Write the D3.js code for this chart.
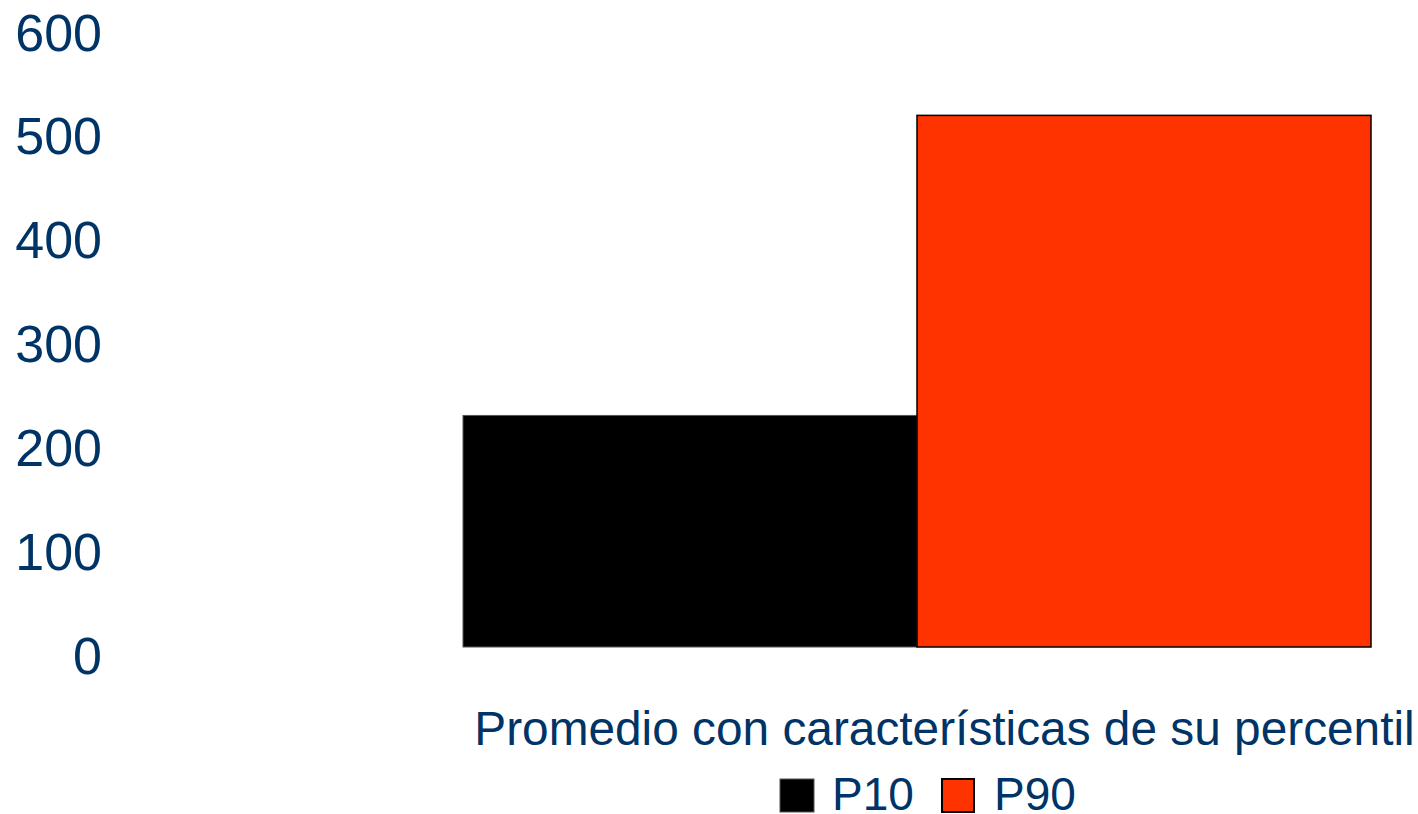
<!DOCTYPE html>
<html>
<head>
<meta charset="utf-8">
<script src="https://cdn.jsdelivr.net/npm/d3@7"></script>
<style>
  html, body { margin: 0; padding: 0; background: #ffffff; }
  svg { display: block; }
  text { font-family: "Liberation Sans", Arial, sans-serif; fill: #003366; }
</style>
</head>
<body>
<svg id="chart" width="1418" height="814"></svg>
<script>
const categories = ["Promedio con características de su percentil"];
const seriesNames = ["P10", "P90"];
const p10Values = [223];
const p90Values = [512];
const yTicks = [0, 100, 200, 300, 400, 500, 600];
const seriesColors = ["#000000", "#ff3300"];
const seriesStrokes = ["#555555", "#000000"];

const svg = d3.select("#chart");
const y = d3.scaleLinear().domain([0, 600]).range([647, 24]);
const x0 = d3.scaleBand().domain(categories).range([463, 1371]).padding(0);
const x1 = d3.scaleBand().domain(seriesNames).range([0, x0.bandwidth()]).padding(0);

const data = categories.map((c, i) => ({ cat: c, vals: [
  { s: "P10", v: p10Values[i] }, { s: "P90", v: p90Values[i] }
]}));

// y axis labels
const yAxis = d3.axisLeft(y).tickValues(yTicks).tickSize(0).tickPadding(0);
const gY = svg.append("g").attr("transform", "translate(102,0)").call(yAxis);
gY.select(".domain").remove();
gY.selectAll("text")
  .attr("x", 0).attr("dy", null).attr("y", 26)
  .attr("text-anchor", "end")
  .style("font-family", "'Liberation Sans', Arial, sans-serif")
  .style("font-size", "52px").style("fill", "#003366");

// bars
const g = svg.append("g");
data.forEach(d => {
  g.selectAll(null).data(d.vals).enter().append("rect")
    .attr("x", e => x0(d.cat) + x1(e.s))
    .attr("y", e => y(e.v))
    .attr("width", x1.bandwidth())
    .attr("height", e => y(0) - y(e.v))
    .attr("fill", (e, i) => seriesColors[i])
    .attr("stroke", (e, i) => seriesStrokes[i])
    .attr("stroke-width", (e, i) => i === 0 ? 1 : 1.5);
});

// category label
svg.selectAll(null).data(categories).enter().append("text")
  .attr("x", 944.5).attr("y", 745)
  .attr("text-anchor", "middle")
  .style("font-size", "47.8px")
  .text(d => d);

// legend
const legendX = [780, 942];
const legend = svg.append("g");
seriesNames.forEach((s, i) => {
  legend.append("rect")
    .attr("x", legendX[i]).attr("y", 779)
    .attr("width", i === 0 ? 34 : 32).attr("height", 33)
    .attr("fill", seriesColors[i])
    .attr("stroke", seriesStrokes[i])
    .attr("stroke-width", i === 0 ? 1 : 2);
  legend.append("text")
    .attr("x", legendX[i] + 52).attr("y", 810)
    .style("font-size", "46px")
    .text(s);
});
</script>
</body>
</html>
